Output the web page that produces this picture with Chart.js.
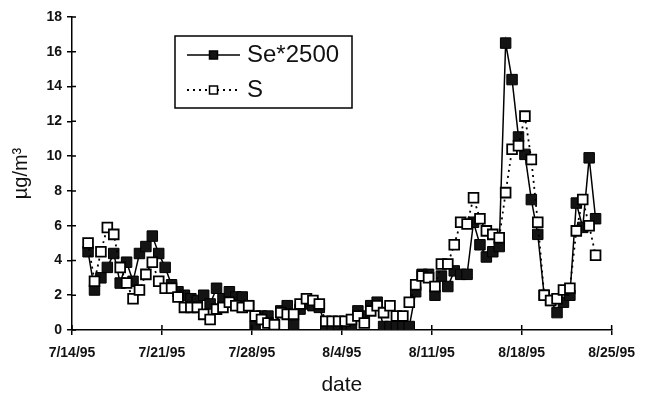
<!DOCTYPE html>
<html>
<head>
<meta charset="utf-8">
<script src="https://cdn.jsdelivr.net/npm/chart.js@4/dist/chart.umd.min.js"></script>
<style>
  html, body { margin: 0; padding: 0; background: #fff; }
  #wrap { width: 645px; height: 394px; }
</style>
</head>
<body>
<div id="wrap"><canvas id="chart" width="645" height="394"></canvas></div>
<script>
// Date axis: one labelled tick per week, counted in days from 7/14/95
const weekLabels = ['7/14/95', '7/21/95', '7/28/95', '8/4/95', '8/11/95', '8/18/95', '8/25/95'];
const daysPerWeek = 7;

// 12-hour samples, first one on the morning of 7/15/95
const firstSampleDay = 1.25;
const sampleStepDays = 0.5;

const seriesNames = ['Se*2500', 'S'];

// Selenium (scaled by 2500), µg/m³
const seValues = [
  4.5, 2.3, 3.0, 3.6, 4.4, 2.7, 3.9, 2.8, 4.4, 4.8,
  5.4, 4.4, 3.6, 2.6, 2.2, 2.0, 1.8, 1.7, 2.0, 1.5,
  2.4, 1.8, 2.2, 1.9, 1.9, 1.4, 0.2, 0.8, 0.8, 0.3,
  1.1, 1.4, 0.3, 1.2, 1.5, 1.4, 1.3, 0.2, 0.1, 0.3,
  0.1, 0.2, 1.1, 0.8, 1.4, 1.6, 0.2, 0.2, 0.2, 0.2,
  0.2, 2.2, 3.2, 3.2, 2.0, 3.1, 2.5, 3.4, 3.2, 3.2,
  6.2, 4.9, 4.2, 4.5, 4.8, 16.5, 14.4, 11.1, 10.1, 7.5,
  5.5, 2.0, 1.7, 1.0, 1.6, 2.0, 7.3, 5.9, 9.9, 6.4
];

// Sulfur, µg/m³
const sValues = [
  5.0, 2.8, 4.5, 5.9, 5.5, 3.6, 2.7, 1.8, 2.3, 3.2,
  3.9, 2.8, 2.4, 2.4, 1.9, 1.3, 1.3, 1.3, 0.9, 0.6,
  1.2, 1.3, 1.6, 1.4, 1.3, 1.4, 0.8, 0.6, 0.4, 0.3,
  1.0, 0.9, 0.9, 1.5, 1.8, 1.7, 1.5, 0.5, 0.5, 0.5,
  0.5, 0.6, 0.8, 0.4, 1.1, 1.4, 1.0, 1.4, 0.8, 0.8,
  1.6, 2.6, 3.1, 3.0, 2.5, 3.8, 3.8, 4.9, 6.2, 6.1,
  7.6, 6.4, 5.7, 5.5, 5.3, 7.9, 10.4, 10.6, 12.3, 9.8,
  6.2, 2.0, 1.7, 1.8, 2.3, 2.4, 5.7, 7.5, 6.0, 4.3
];

const toPoints = values => values.map((v, i) => ({ x: firstSampleDay + i * sampleStepDays, y: v }));

const ink = '#111';
const fontFamily = "'Liberation Sans', Arial, Helvetica, sans-serif";

// Tick marks that cross the axis lines (inner half)
const innerTicks = {
  id: 'innerTicks',
  afterDatasetsDraw(chart) {
    const { ctx, chartArea, scales } = chart;
    ctx.save();
    ctx.strokeStyle = '#000';
    ctx.lineWidth = 1.5;
    ctx.beginPath();
    scales.x.ticks.forEach(t => {
      const px = scales.x.getPixelForValue(t.value);
      ctx.moveTo(px, chartArea.bottom);
      ctx.lineTo(px, chartArea.bottom - 5);
    });
    scales.y.ticks.forEach(t => {
      const py = scales.y.getPixelForValue(t.value);
      ctx.moveTo(chartArea.left, py);
      ctx.lineTo(chartArea.left + 4, py);
    });
    ctx.stroke();
    ctx.restore();
  }
};

// Boxed legend inside the plot, with line + marker samples
const boxedLegend = {
  id: 'boxedLegend',
  afterDraw(chart, args, opts) {
    const { ctx, chartArea } = chart;
    const x0 = chartArea.left + opts.offsetX;
    const y0 = chartArea.top + opts.offsetY;
    ctx.save();
    ctx.strokeStyle = '#000';
    ctx.lineWidth = 1.5;
    ctx.strokeRect(x0, y0, opts.width, opts.height);

    chart.data.datasets.forEach((ds, i) => {
      const cy = y0 + opts.firstRow + i * opts.rowGap;
      const lx0 = x0 + opts.lineStart, lx1 = x0 + opts.lineEnd;
      const mx = (lx0 + lx1) / 2;
      ctx.beginPath();
      ctx.setLineDash(ds.borderDash || []);
      ctx.lineWidth = ds.borderWidth;
      ctx.strokeStyle = '#000';
      ctx.moveTo(lx0, cy);
      ctx.lineTo(lx1, cy);
      ctx.stroke();
      ctx.setLineDash([]);
      const s = opts.markerSize;
      ctx.fillStyle = ds.pointBackgroundColor;
      ctx.fillRect(mx - s / 2, cy - s / 2, s, s);
      ctx.lineWidth = 1.5;
      ctx.strokeRect(mx - s / 2, cy - s / 2, s, s);

      ctx.fillStyle = ink;
      ctx.font = opts.fontSize + 'px ' + fontFamily;
      ctx.textBaseline = 'middle';
      ctx.textAlign = 'left';
      ctx.fillText(ds.label, x0 + opts.textStart, cy);
    });
    ctx.restore();
  }
};

new Chart(document.getElementById('chart'), {
  type: 'line',
  data: {
    datasets: [
      {
        label: seriesNames[0],
        data: toPoints(seValues),
        order: 1,
        borderColor: '#000',
        borderWidth: 1.5,
        pointStyle: 'rect',
        pointRadius: 7.4,
        pointBackgroundColor: '#141414',
        pointBorderColor: '#000',
        pointBorderWidth: 1,
        tension: 0
      },
      {
        label: seriesNames[1],
        data: toPoints(sValues),
        order: 0,
        borderColor: '#000',
        borderWidth: 1.8,
        borderDash: [2, 4],
        pointStyle: 'rect',
        pointRadius: 6.9,
        pointBackgroundColor: '#fff',
        pointBorderColor: '#000',
        pointBorderWidth: 1.8,
        tension: 0
      }
    ]
  },
  options: {
    responsive: false,
    animation: false,
    devicePixelRatio: 1,
    layout: { padding: { top: 17, right: 26, bottom: 0, left: 0 } },
    plugins: {
      legend: { display: false },
      tooltip: { enabled: false },
      boxedLegend: {
        offsetX: 103, offsetY: 19, width: 177, height: 72,
        firstRow: 19, rowGap: 35,
        lineStart: 12, lineEnd: 65, textStart: 72,
        markerSize: 8, fontSize: 24
      }
    },
    scales: {
      x: {
        type: 'linear',
        min: 0,
        max: daysPerWeek * (weekLabels.length - 1),
        afterFit: s => { s.height = 64; },
        border: { display: true, color: '#000', width: 1.5 },
        grid: { drawOnChartArea: false, drawTicks: true, tickLength: 5, color: '#000', lineWidth: 1.5 },
        ticks: {
          stepSize: daysPerWeek,
          autoSkip: false,
          maxRotation: 0,
          padding: 10,
          color: ink,
          font: { family: fontFamily, size: 14, weight: 'bold' },
          callback: v => weekLabels[Math.round(v / daysPerWeek)]
        },
        title: {
          display: true,
          text: 'date',
          color: ink,
          font: { family: fontFamily, size: 21, lineHeight: 0.85 },
          padding: { top: 0, bottom: 0 }
        }
      },
      y: {
        min: 0,
        max: 18,
        afterFit: s => { s.width = 72; },
        border: { display: true, color: '#000', width: 1.5 },
        grid: { drawOnChartArea: false, drawTicks: true, tickLength: 5, color: '#000', lineWidth: 1.5 },
        ticks: {
          stepSize: 2,
          padding: 5,
          color: ink,
          font: { family: fontFamily, size: 14, weight: 'bold' }
        },
        title: {
          display: true,
          text: 'µg/m³',
          color: ink,
          font: { family: fontFamily, size: 20, lineHeight: 1.2 },
          padding: { top: 9, bottom: 0 }
        }
      }
    }
  },
  plugins: [innerTicks, boxedLegend]
});
</script>
</body>
</html>
